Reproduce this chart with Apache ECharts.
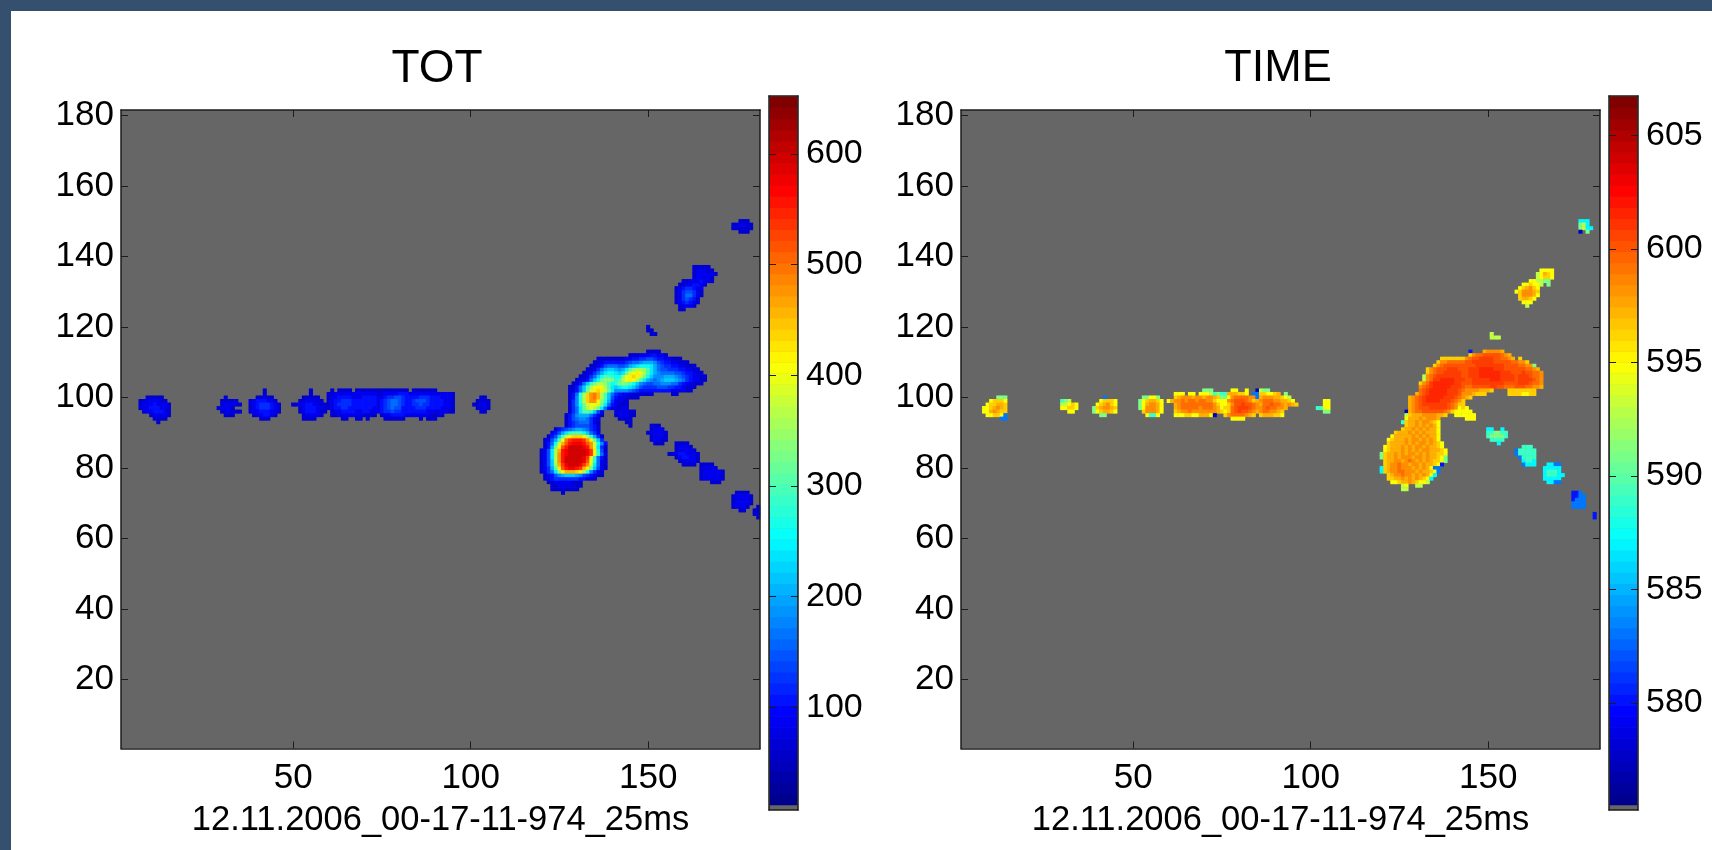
<!DOCTYPE html>
<html><head><meta charset="utf-8">
<script src="https://cdn.jsdelivr.net/npm/echarts@6/dist/echarts.min.js"></script>
<style>
html,body{margin:0;padding:0;width:1712px;height:850px;overflow:hidden;background:#34506e}
#panel{position:absolute;left:11px;top:11px;right:0;bottom:0;background:#fff}
#chart{position:absolute;left:0;top:0;width:1712px;height:850px;filter:blur(0.55px)}
</style></head><body>
<div id="panel"></div><div id="chart"></div>
<script>
const xTicks=[50,100,150];
const yTicks=[20,40,60,80,100,120,140,160,180];
const totBarTicks=[100,200,300,400,500,600];
const timeBarTicks=[580,585,590,595,600,605];
const barLevels=[0,1,2,3,4,5,6,7,8,9,10,11,12,13,14,15,16,17,18,19,20,21,22,23,24,25,26,27,28,29,30,31,32,33,34,35,36,37,38,39,40,41,42,43,44,45,46,47,48,49,50,51,52,53,54,55,56,57,58,59,60,61,62,63];
const titles=['TOT','TIME'];
const stamp='12.11.2006_00-17-11-974_25ms';
// [row, first column, one base-36 digit per cell; digit x 20 = TOT value]
const totRows=[
[100,9,'33333'],[99,7,'33444433'],[98,7,'344454443'],[97,7,'344555443'],[96,8,'34455543'],[95,10,'344443'],[94,11,'3333'],[93,12,'3'],
[100,31,'3'],[99,30,'33333'],[98,30,'344433'],[97,29,'34443'],[96,30,'344333'],[95,31,'333'],
[102,42,'3'],[101,42,'3'],[100,40,'33433'],[99,38,'34555443'],[98,38,'345666543'],[97,38,'345666543'],[96,38,'344555443'],[95,39,'3445543'],[94,41,'333'],
[102,55,'3'],[101,55,'3'],[100,53,'33333'],[99,52,'3344433'],[98,50,'3344554433'],[97,52,'34555443'],[96,52,'34555433'],[95,53,'344443'],[94,53,'3333'],
[102,61,'3'],[102,63,'3333'],[102,68,'3333333'],[102,75,'33333333'],[102,84,'3333333'],
[101,60,'334444444444443'],[101,75,'344445554444444444443'],
[100,60,'344555544455554456677655556665554443'],
[99,60,'345566655555554567887655677765555443'],
[98,60,'345666655555554567887655667665555443'],
[97,60,'345566555555544567877555566655554443'],
[96,61,'3445555445544456676655555554444443'],[96,95,'3'],
[95,61,'3344444443333'],[95,75,'344555544444443333'],
[94,64,'33'],[94,68,'33'],[94,71,'3'],[94,76,'333333'],[94,86,'3'],[94,88,'333'],
[100,103,'33'],[99,102,'3333'],[98,101,'33443'],[97,102,'3343'],[96,103,'33'],
[73,126,'3'],[74,123,'33333333'],[75,123,'334444433'],[76,122,'3344444333'],[77,121,'345666666655433'],[78,121,'34579abbba9765433'],
[79,120,'3468chlnnnmlie9643'],[80,120,'346aflqsttsrnlgb743'],[81,120,'347bhnrtuuutrojc843'],[82,120,'347biosuuuuutqke843'],[83,120,'347ciosuuuuutrle853'],[84,120,'347ciostuuuuutrle84'],[85,120,'347cinstuuuuutrld73'],
[86,121,'35aglqsuuuutsojc63'],[87,121,'358djnqstttsqojd95'],[88,121,'347afkprsssrolgb6'],[89,122,'357bfjlmmmliea63'],[90,123,'457acefffdb864'],[91,124,'356789aa98653'],
[92,127,'3567777653'],[93,127,'3567888643'],[94,127,'3578998643'],[95,127,'3579aaa8643'],[96,128,'368cffeb74'],[97,128,'368cgikigc8543344'],[98,128,'369dgjkkjgc854333'],[99,128,'369eimoolhea64433'],[100,128,'359eimopnifb75443333'],[101,128,'358eimopnifb865444333333'],
[102,128,'3358bgjlmljgc9999876555555555444433'],[103,128,'3358bfiklkifcbcddcb97666677766554333'],[104,129,'3358begiihfdeghgfdb987788999886544333'],[105,130,'33458bdghhgefiklkifca989abbba98654433'],[106,131,'33468bdffeddhklmljgdb999aaa987654433'],[107,132,'33468acddcbcgjklkifca9888877655433'],[108,133,'33468abba9acfhiihfca877666554433'],[109,134,'33457888778abcdddca87665544333'],[110,135,'33455555567889aaa9765544333'],[111,136,'333333334455667765544333'],[112,145,'33344455443'],[113,150,'3333'],[101,157,'33'],
[92,145,'3'],[93,144,'33'],[94,142,'3333'],[95,141,'344433'],[96,141,'444433'],
[120,150,'3'],[119,150,'33'],[118,151,'33'],
[92,151,'333'],[91,151,'3444'],[90,150,'344443'],[89,151,'34443'],[88,151,'34433'],[87,152,'333'],
[87,158,'3333'],[86,158,'34443'],[85,158,'344443'],[84,156,'334554443'],[83,158,'3455443'],[82,159,'344443'],[81,160,'3333'],
[81,165,'3333'],[80,165,'34443'],[79,165,'3444443'],[78,165,'3444443'],[77,165,'3444443'],[76,168,'333'],
[73,175,'3333'],[72,174,'344443'],[71,174,'344443'],[70,174,'344443'],[69,174,'34443'],[68,176,'33'],
[69,181,'3'],[68,180,'33'],[67,180,'33'],[66,181,'3'],
[125,159,'33'],[126,159,'34443'],[127,158,'3456543'],[128,158,'3467653'],[129,158,'34688643'],[130,158,'34677643'],[131,158,'34566544'],[132,159,'33445543'],[133,160,'334445443'],[134,163,'344443'],[135,163,'3444443'],[136,163,'344433'],[137,163,'33333'],
[147,176,'333'],[148,174,'333333'],[149,174,'334433'],[150,176,'333']
];
// TIME values by digit 0..e
const timeLevels=[577,580,583,587,589,591,593,595,596.5,597.5,598.5,599.5,600.3,601,601.7];
const timeRows=[
[100,12,'555'],[99,10,'78887'],[98,9,'788998'],[97,8,'7789a98'],[96,8,'779a988'],[95,9,'778872'],[94,13,'22'],
[99,30,'456'],[98,30,'66787'],[97,30,'77887'],[96,32,'77'],
[100,42,'2'],[99,41,'78887'],[98,40,'789a87'],[97,39,'589aa98'],[96,39,'5789987'],[95,41,'55'],
[100,53,'55775'],[99,52,'5789987'],[98,52,'579aa97'],[97,52,'57aaa97'],[96,53,'8aaa97'],[95,54,'7447'],
[102,70,'555'],[102,78,'77'],[102,82,'7'],[102,85,'0'],[102,86,'655'],
[101,62,'777'],[101,66,'77'],[101,69,'7776'],[101,73,'4544'],[101,77,'999887'],[101,84,'22'],[101,86,'887789'],[101,93,'5'],
[100,62,'89aaa9aa9aa98557abbbbaa29aaa99876'],[99,60,'79aababbabbaa8777abcccba89abbbaa9987'],[98,62,'9abbbbbbbbba8778accdccba9bbcbba9a98'],[97,62,'9abbbbbabbba9788bcdddcbaabcbbaa9'],[96,62,'89aabaaaaaaa9878bcdccba9abbaa98'],
[95,62,'77788779997'],[95,73,'0'],[95,76,'8abbbba98'],[95,86,'8999887'],[94,78,'7777'],
[99,104,'77'],[98,104,'77'],[97,102,'4477'],[96,104,'55'],
[113,145,'1'],[113,149,'9aaaa9'],[112,145,'8abbcccccba9'],[111,137,'8888888abccddddccbba9'],[111,159,'8'],
[110,136,'8aabbbbbccddddddcccccbbaa8'],[109,135,'8abcccccccccddddddddccccbbaa5'],[108,133,'8abcccdddcccdddeeeedddccccccbba9'],[107,133,'8abccdddddccdddeeeeeedddcccdccbba'],[106,132,'6abcdddddddccdddeeeeeeddddcdddcbba'],[105,132,'6abddeeeedddccdddddeeeddddcddddcba'],[104,131,'8abdeeeeeeddcccdddddddddccccdddcbba'],[103,131,'abcdeeeeedddcbbcccccddccbbbcccbbaa9'],
[102,131,'bcdeeeeedddcbaaaa9998'],[102,156,'88888888'],[101,130,'9bcdeeeeedddcaaa9888'],[101,156,'88887788'],[100,128,'9abcdeeeeedddcba98'],[99,128,'9abcdeeeedddcba8'],[98,128,'9abcdddddddcba88'],[97,128,'9abcccdddddcba787'],[96,127,'0'],[96,128,'9abbccccccba877777'],
[95,127,'68999aaaa998'],[95,141,'777777'],[94,127,'7999a9aaa9'],[94,144,'777'],[93,126,'4'],[93,127,'899a9aa987'],[92,127,'899a9a9a97'],[91,126,'899a9a9a997'],[90,124,'8999a9a9a9997'],[89,123,'799999a9a9a997'],[88,122,'78999a9aa9a9a97'],[87,122,'89999a9a9aa9a987'],[86,121,'78999a9a9aa9a9987'],[85,121,'78999a9a9a9aa99987'],[84,120,'5899a9a9aa9a9a99887'],[83,120,'5899a9aaa9aa9a99875'],[82,121,'899aa9aba9a9a98875'],[81,121,'89aabaa9aa9a99871'],
[80,120,'3'],[80,121,'89aabaaa9a9a972'],[80,136,'2'],[79,120,'3'],[79,121,'89aabbaaa9a99872'],[78,122,'89aabaa9a9a973'],[77,122,'8899a9a9a9873'],[76,123,'77899a98776'],[75,126,'67'],[75,130,'66'],[74,126,'66'],
[118,151,'6'],[117,151,'666'],
[91,150,'33'],[91,154,'3'],[90,150,'445544'],[89,150,'455554'],[88,151,'4444'],[87,153,'3'],
[86,160,'444'],[85,158,'244444'],[84,158,'244444'],[83,159,'24444'],[82,160,'3443'],[81,160,'2333'],
[81,167,'3322'],[80,166,'33333'],[79,166,'34443'],[78,166,'344433'],[77,166,'33333'],[76,167,'3322'],
[73,174,'112'],[72,174,'1122'],[71,174,'1222'],[70,174,'2222'],[69,174,'2222'],[67,180,'1'],[66,180,'1'],
[150,176,'333'],[149,176,'563'],[148,176,'5633'],[147,176,'0'],[147,178,'5'],
[136,165,'7777'],[135,164,'67987'],[134,164,'67887'],[133,162,'776655'],[132,160,'778776'],[132,167,'5'],[131,159,'789a87'],[130,158,'78aaa98'],[129,159,'8aaa97'],[128,159,'89987'],[127,160,'777'],[126,161,'6']
];

const xCats=[];for(let k=2;k<=181;k++)xCats.push(String(k));
const yCats=[];for(let j=1;j<=181;j++)yCats.push(String(j));
function cells(rows,dec){const o=[];rows.forEach(r=>{[...r[2]].forEach((c,i)=>{const k=r[1]+i;if(k>=2&&k<=181)o.push([k-2,r[0]-1,dec(parseInt(c,36))]);});});return o;}
const totData=cells(totRows,d=>d*20);
const timeData=cells(timeRows,d=>timeLevels[d]);

const FONT='Liberation Sans',INK='#1c1c1c',FS=35;
const jet=['#00008f','#0000ff','#0080ff','#00ffff','#80ff80','#ffff00','#ff8000','#ff0000','#800000'];
const line={show:true,lineStyle:{color:INK,width:1.5}};
function tick(list){return {show:true,inside:true,length:7,alignWithLabel:true,lineStyle:{color:INK,width:1},interval:(i,v)=>list.includes(+v)};}
function mainX(gi,pos,lab){return {type:'category',gridIndex:gi,position:pos,data:xCats,z:5,axisLine:line,axisTick:tick(xTicks),
  axisLabel:{show:lab,interval:(i,v)=>xTicks.includes(+v),margin:12,fontFamily:FONT,fontSize:FS,color:'#000'},
  name:lab?stamp:'',nameLocation:'middle',nameGap:72,nameTextStyle:{fontFamily:FONT,fontSize:34.5,color:'#000',verticalAlign:'middle'}};}
function mainY(gi,pos,lab){return {type:'category',gridIndex:gi,position:pos,data:yCats,z:5,axisLine:line,axisTick:tick(yTicks),
  axisLabel:{show:lab,interval:(i,v)=>yTicks.includes(+v),margin:7,fontFamily:FONT,fontSize:FS,color:'#000'}};}
function hiddenX(gi){return {type:'category',gridIndex:gi,data:['c'],show:false};}
function barY(gi){return {type:'category',gridIndex:gi,data:barLevels.map(String),show:false};}
function frameY(gi,pos,min,max,ticks,lab){return {type:'value',gridIndex:gi,position:pos,min:min,max:max,z:5,splitLine:{show:false},axisLine:line,
  axisTick:{show:true,inside:true,length:7,lineStyle:{color:INK,width:1},customValues:ticks},
  axisLabel:{show:lab,customValues:ticks,margin:8,fontFamily:FONT,fontSize:34,color:'#000'}};}
const plot={top:110,width:639,height:638.5,show:true,backgroundColor:'#666666',borderWidth:0};
const barFrame={top:96,width:29,height:714,show:true,backgroundColor:'#666666',borderWidth:0};
const barInner={top:97,width:27,height:708,show:false};
const option={
 animation:false,
 title:[
  {text:titles[0],left:432,top:64,textAlign:'center',textVerticalAlign:'middle',textStyle:{fontFamily:FONT,fontSize:46,fontWeight:'normal',color:'#000'}},
  {text:titles[1],left:1273,top:64,textAlign:'center',textVerticalAlign:'middle',textStyle:{fontFamily:FONT,fontSize:45,fontWeight:'normal',color:'#000'}}
 ],
 grid:[
  Object.assign({left:121},plot),Object.assign({left:961},plot),
  Object.assign({left:769},barFrame),Object.assign({left:1609},barFrame),
  Object.assign({left:770},barInner),Object.assign({left:1610},barInner)
 ],
 xAxis:[mainX(0,'bottom',true),mainX(0,'top',false),mainX(1,'bottom',true),mainX(1,'top',false),
  Object.assign(hiddenX(2),{show:true,axisLine:line,axisTick:{show:false},axisLabel:{show:false},position:'bottom'}),
  Object.assign(hiddenX(2),{show:true,axisLine:line,axisTick:{show:false},axisLabel:{show:false},position:'top'}),
  Object.assign(hiddenX(3),{show:true,axisLine:line,axisTick:{show:false},axisLabel:{show:false},position:'bottom'}),
  Object.assign(hiddenX(3),{show:true,axisLine:line,axisTick:{show:false},axisLabel:{show:false},position:'top'}),
  hiddenX(4),hiddenX(5)],
 yAxis:[mainY(0,'left',true),mainY(0,'right',false),mainY(1,'left',true),mainY(1,'right',false),
  frameY(2,'left',7.2,652.3,totBarTicks,false),frameY(2,'right',7.2,652.3,totBarTicks,true),
  frameY(3,'left',575.29,606.74,timeBarTicks,false),frameY(3,'right',575.29,606.74,timeBarTicks,true),
  barY(4),barY(5)],
 visualMap:[
  {type:'continuous',show:false,min:11.8,max:652.3,seriesIndex:0,dimension:2,inRange:{color:jet}},
  {type:'continuous',show:false,min:575.5,max:606.74,seriesIndex:1,dimension:2,inRange:{color:jet}},
  {type:'continuous',show:false,min:0,max:63,seriesIndex:[2,3],dimension:2,inRange:{color:jet}}
 ],
 series:[
  {type:'heatmap',name:'TOT',xAxisIndex:0,yAxisIndex:0,data:totData,progressive:0,animation:false},
  {type:'heatmap',name:'TIME',xAxisIndex:2,yAxisIndex:2,data:timeData,progressive:0,animation:false},
  {type:'heatmap',xAxisIndex:8,yAxisIndex:8,data:barLevels.map(l=>[0,l,l]),progressive:0,animation:false},
  {type:'heatmap',xAxisIndex:9,yAxisIndex:9,data:barLevels.map(l=>[0,l,l]),progressive:0,animation:false}
 ]
};
echarts.init(document.getElementById('chart'),null,{renderer:'canvas'}).setOption(option);
</script>
</body></html>
